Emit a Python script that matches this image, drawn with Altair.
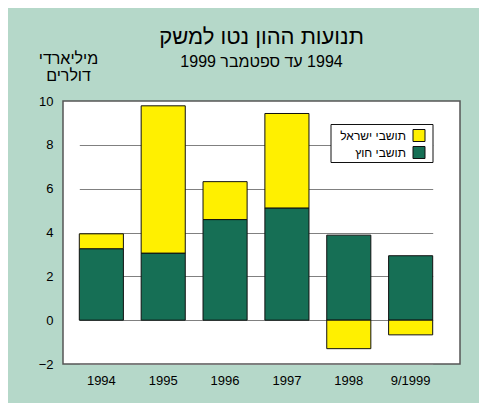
import altair as alt
import pandas as pd

years = ["1994", "1995", "1996", "1997", "1998", "9/1999"]
foreign = [3.26, 3.06, 4.59, 5.12, 3.88, 2.94]
israeli = [0.68, 6.72, 1.73, 4.31, -1.30, -0.67]
series = ["תושבי ישראל", "תושבי חוץ"]
colors = ["#fff000", "#166f55"]
y_ticks = [-2, 0, 2, 4, 6, 8, 10]

rows = []
for i, yr in enumerate(years):
    rows.append({"year": yr, "series": series[1], "value": foreign[i], "ord": 0})
    rows.append({"year": yr, "series": series[0], "value": israeli[i], "ord": 1})
df = pd.DataFrame(rows)
legend_df = pd.DataFrame({"series": series, "row": [0, 1]})
frame_df = pd.DataFrame({"k": [0]})

FONT = "Liberation Sans, Arimo, DejaVu Sans"
color_scale = alt.Scale(domain=series, range=colors)

bars = alt.Chart(df).mark_bar(stroke="#111111", strokeWidth=1).encode(
    x=alt.X("year:N", sort=years,
            scale=alt.Scale(range=[16.3, 369.7], paddingInner=0.287, paddingOuter=0),
            axis=alt.Axis(title=None, labelAngle=0, ticks=False, domain=False, grid=False,
                          labelFont=FONT, labelFontSize=13, labelColor="#000000",
                          labelPadding=10)),
    y=alt.Y("value:Q", stack="zero",
            scale=alt.Scale(domain=[-2, 10], nice=False),
            axis=alt.Axis(values=y_ticks, ticks=False, domain=False,
                          labelFont=FONT, labelFontSize=13, labelColor="#000000",
                          labelPadding=10,
                          gridColor="#808080", gridWidth=1.2,
                          title=["מיליארדי", "דולרים"], titleAngle=0,
                          titleAlign="center", titleBaseline="alphabetic",
                          titleX=5, titleY=-38, titleFont=FONT, titleFontSize=16,
                          titleFontWeight="normal", titleLineHeight=17,
                          titleColor="#000000")),
    color=alt.Color("series:N", sort=series, scale=color_scale, legend=None),
    order=alt.Order("ord:Q"),
)

legend_frame = alt.Chart(frame_df).mark_rect(
    fill="#ffffff", stroke="#111111", strokeWidth=1
).encode(
    x=alt.value(268), x2=alt.value(370), y=alt.value(23.5), y2=alt.value(61.5)
)

row_y = alt.Y("row:O", axis=None,
              scale=alt.Scale(type="point", domain=[0, 1], range=[34.5, 51.5], padding=0))

legend_symbols = alt.Chart(legend_df).mark_square(
    size=144, opacity=1, stroke="#111111", strokeWidth=1
).encode(
    x=alt.value(356),
    y=row_y,
    color=alt.Color("series:N", scale=color_scale, legend=None),
)

legend_labels = alt.Chart(legend_df).mark_text(
    align="right", baseline="middle", font=FONT, fontSize=12, color="#000000"
).encode(
    x=alt.value(343),
    y=row_y,
    text="series:N",
)

chart = alt.layer(bars, legend_frame, legend_symbols, legend_labels).resolve_scale(
    y="independent"
).properties(
    width=397,
    height=263,
    autosize=alt.AutoSizeParams(type="none"),
    padding={"left": 55, "top": 93, "right": 19, "bottom": 39},
    background="#b5d8c9",
    title=alt.TitleParams(
        text="תנועות ההון נטו למשק",
        subtitle="\u202b1994 עד ספטמבר 1999\u202c",
        anchor="middle", frame="group",
        font=FONT, fontSize=22, fontWeight="normal", color="#000000",
        subtitleFont=FONT, subtitleFontSize=16, subtitleColor="#000000",
        subtitleFontWeight="normal",
        subtitlePadding=5, offset=-21,
    ),
).configure_view(
    fill="#ffffff", stroke="#555555", strokeWidth=1.5
)

chart.save("out.html", embed_options={"renderer": "svg", "actions": False})
